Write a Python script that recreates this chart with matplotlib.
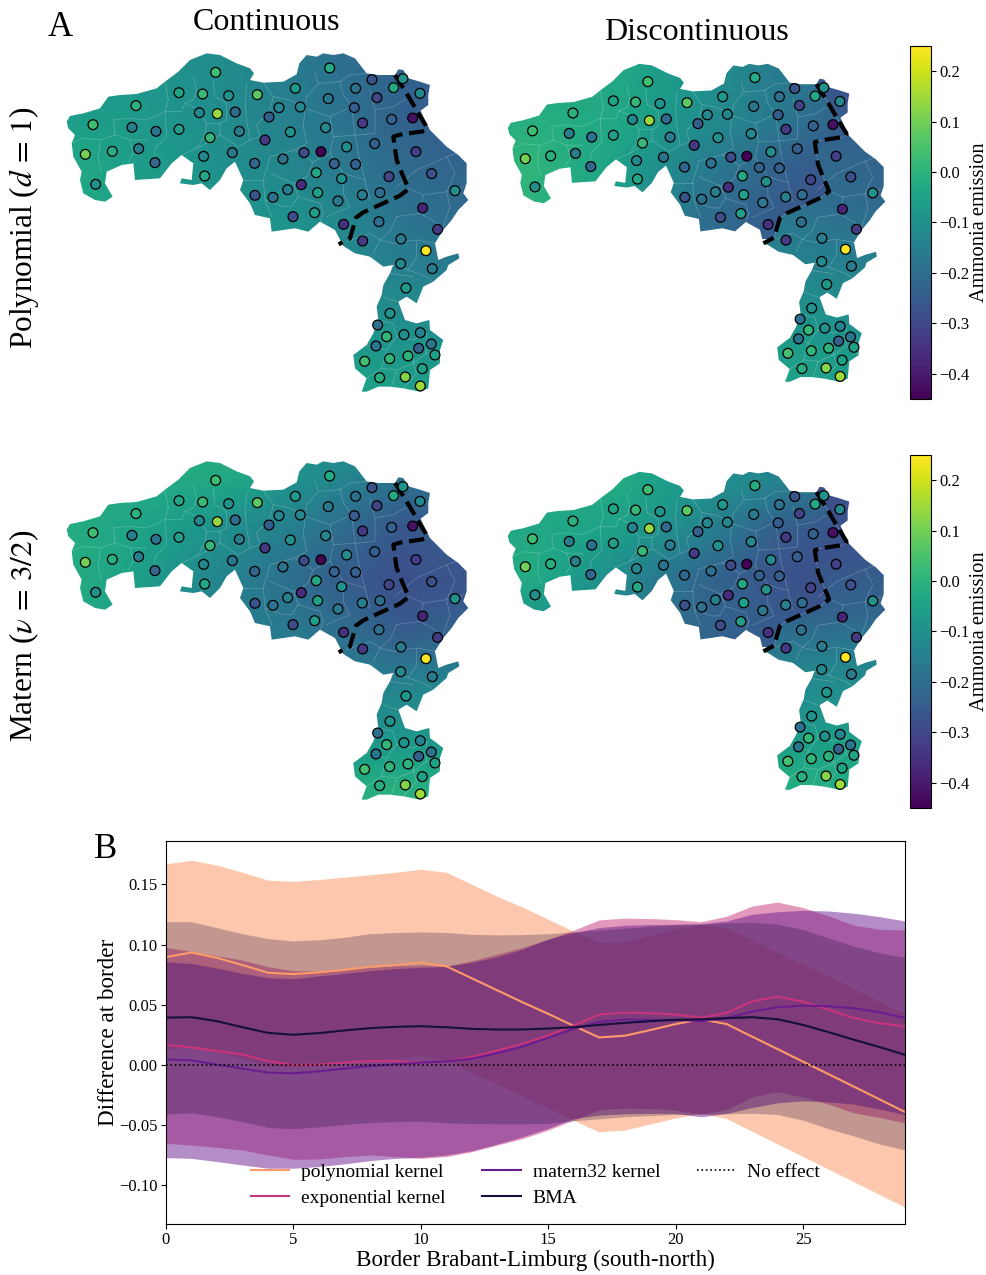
import numpy as np
import matplotlib
matplotlib.use('Agg')
import matplotlib.pyplot as plt
from matplotlib.patches import Polygon
from matplotlib.cm import ScalarMappable
from matplotlib.colors import Normalize

plt.rcParams['font.family'] = ['Liberation Serif', 'DejaVu Serif']
plt.rcParams['mathtext.fontset'] = 'stix'

W, H = 986, 1275

# map outline, in map units (y runs downward)
brabant_north = [(50, 245), (60, 228), (100, 220), (150, 205), (175, 170), (210, 165), (260, 162), (320, 145),
                 (345, 125), (385, 95), (420, 60), (470, 40), (510, 45), (560, 70), (600, 85), (612, 100),
                 (600, 120), (640, 128), (700, 125), (740, 103), (748, 70), (770, 45), (800, 50), (820, 40),
                 (850, 45), (880, 40), (915, 55), (950, 100), (985, 105), (1020, 105)]
limburg_outer = [(1045, 88), (1060, 90), (1075, 115), (1110, 125), (1140, 135), (1135, 165), (1135, 195), (1112, 212),
                 (1125, 240), (1140, 270), (1170, 300), (1190, 320), (1225, 345), (1250, 370), (1250, 430), (1240, 460),
                 (1255, 480), (1225, 510), (1205, 540), (1180, 570), (1155, 610), (1165, 660), (1190, 650), (1225, 640),
                 (1228, 655), (1195, 675), (1190, 690), (1150, 725), (1120, 740), (1100, 790), (1070, 770), (1045, 785),
                 (1065, 840), (1100, 850), (1138, 840), (1140, 870), (1180, 900), (1170, 930), (1170, 970), (1140, 990),
                 (1135, 1045), (1110, 1055), (1060, 1045), (1020, 1040), (985, 1040), (950, 1055), (935, 1055), (950, 1015),
                 (915, 985), (910, 945), (950, 915), (970, 880), (985, 840), (980, 800), (995, 765), (1000, 735),
                 (1020, 700), (1030, 675), (1000, 680), (960, 650), (915, 640), (880, 618)]
brabant_south = [(855, 570), (810, 545), (775, 575), (735, 565), (665, 575), (660, 535), (615, 525), (600, 490),
                 (570, 450), (580, 420), (555, 365), (530, 385), (510, 420), (480, 450), (455, 430), (430, 435),
                 (390, 430), (395, 415), (425, 420), (430, 370), (395, 345), (365, 370), (330, 415), (255, 420),
                 (250, 370), (215, 375), (170, 395), (165, 430), (188, 470), (165, 485), (135, 480), (100, 460),
                 (90, 420), (95, 395), (70, 350), (65, 310), (75, 285), (55, 265)]
border_line = [(1035, 105), (1070, 160), (1108, 225), (1131, 262), (1125, 273), (1050, 284), (1030, 290), (1040, 360),
               (1058, 405), (1076, 447), (1050, 467), (940, 517), (918, 533), (900, 595), (866, 613)]

# municipality boundaries
municipal_lines = [
    [(65, 310), (100, 295), (150, 300), (195, 285), (190, 240), (235, 235), (290, 240), (345, 215), (395, 215), (405, 190), (430, 180), (440, 150), (430, 110)],
    [(345, 125), (355, 180), (345, 215), (350, 290), (315, 325), (315, 350)],
    [(150, 300), (145, 360), (155, 395)],
    [(240, 300), (250, 340), (235, 365)],
    [(195, 285), (240, 300), (290, 300)],
    [(405, 190), (440, 205), (470, 250), (510, 250), (510, 285), (440, 325), (395, 345)],
    [(470, 250), (465, 285), (440, 325)],
    [(490, 120), (495, 170), (530, 190), (530, 240), (510, 250)],
    [(590, 130), (585, 190), (590, 240), (600, 300), (565, 320), (510, 285)],
    [(640, 128), (670, 170), (660, 210), (620, 255), (630, 290), (600, 300)],
    [(670, 170), (720, 180), (765, 205), (760, 260), (770, 310), (735, 330), (660, 350), (640, 420), (645, 480), (665, 530)],
    [(795, 100), (805, 130), (770, 170), (765, 205)],
    [(870, 125), (900, 105), (950, 100)],
    [(870, 125), (880, 165), (905, 200), (915, 280), (925, 340), (945, 420), (960, 480)],
    [(805, 130), (870, 125)],
    [(765, 205), (840, 230), (905, 200)],
    [(840, 230), (850, 290), (925, 285)],
    [(850, 290), (840, 340), (790, 365), (735, 330)],
    [(790, 365), (770, 410), (730, 430), (660, 400)],
    [(580, 420), (640, 420)],
    [(645, 480), (700, 500), (725, 500), (745, 470)],
    [(730, 430), (745, 470), (810, 490), (820, 520), (810, 545)],
    [(840, 340), (880, 400), (945, 420)],
    [(880, 400), (880, 460), (900, 500), (830, 530)],
    [(960, 150), (975, 210), (1030, 200), (1065, 180)],
    [(975, 210), (975, 280), (925, 285)],
    [(1040, 440), (1100, 390), (1180, 355), (1220, 340)],
    [(1075, 445), (1120, 465), (1190, 455), (1240, 440)],
    [(1190, 350), (1215, 400), (1190, 455), (1200, 500), (1180, 560)],
    [(1120, 465), (1110, 520), (1180, 560)],
    [(1040, 530), (1110, 520)],
    [(1040, 530), (1020, 575), (990, 600), (970, 640)],
    [(890, 605), (960, 580), (990, 600), (1030, 610), (1100, 600), (1155, 610)],
    [(1100, 600), (1100, 650), (1075, 690), (1030, 675)],
    [(1075, 690), (1130, 710), (1150, 725)],
    [(1020, 700), (1090, 710)],
    [(1000, 770), (1040, 785)],
    [(985, 840), (1030, 850), (1040, 890), (1010, 930), (950, 915)],
    [(1040, 890), (1090, 900), (1130, 880)],
    [(1010, 930), (995, 985), (950, 1015)],
    [(995, 985), (1040, 990), (1090, 970), (1090, 925)],
    [(1040, 990), (1025, 1040)],
    [(1090, 970), (1100, 1000), (1060, 1045)],
    [(1130, 880), (1130, 940), (1170, 970)],
    [(1130, 940), (1090, 970)],
]

# observed ammonia emission per municipality
point_x = [497, 839, 966, 1059, 1031, 1110, 917, 981, 835, 736, 622, 536, 458, 387, 258, 129, 246, 318, 387, 448, 502, 556, 687,
           751, 913, 657, 568, 480, 721, 827, 938, 1025, 1088, 645, 890, 974, 1098, 106, 187, 266, 461, 547, 699, 762, 813, 614,
           315, 853, 917, 799, 875, 464, 1017, 1145, 137, 754, 713, 803, 615, 669, 937, 990, 1215, 864, 1118, 729, 794, 881, 987,
           1163, 938, 1053, 1128, 1052, 1147, 1068, 1020, 983, 1010, 1062, 1111, 978, 1144, 1106, 1155, 1074, 1019, 944, 1117,
           989, 1066, 1111]
point_y = [97, 84, 119, 116, 143, 160, 145, 173, 176, 145, 164, 167, 162, 158, 197, 254, 262, 274, 268, 218, 221, 216, 203,
           201, 203, 231, 274, 293, 276, 263, 249, 238, 234, 300, 321, 311, 335, 343, 334, 326, 349, 338, 357, 338, 335, 370,
           368, 371, 373, 398, 416, 408, 410, 401, 433, 434, 449, 458, 466, 472, 465, 458, 452, 483, 504, 530, 518, 553, 545,
           568, 603, 597, 632, 671, 686, 744, 820, 855, 890, 884, 878, 918, 912, 925, 945, 948, 956, 964, 986,
           1013, 1011, 1038]
point_value = [0.03, -0.02, -0.27, -0.09, -0.03, -0.12, -0.19, -0.31, -0.17, -0.07, 0.07, -0.09, 0.02, -0.04, 0.0, 0.03, -0.15,
               -0.19, -0.06, -0.13, 0.14, -0.21, -0.13, -0.13, -0.25, -0.24, -0.16, 0.02, -0.1, -0.12, -0.33, -0.23, -0.42, -0.33,
               -0.11, -0.24, -0.32, 0.1, -0.01, -0.15, -0.13, -0.18, -0.19, -0.29, -0.45, -0.22, -0.22, -0.23, -0.24, -0.03, -0.1,
               -0.03, -0.31, -0.28, -0.1, -0.36, -0.15, -0.05, -0.27, -0.19, -0.15, -0.2, -0.1, -0.17, -0.38, -0.29, -0.06, -0.35,
               -0.2, -0.33, -0.33, -0.16, 0.25, -0.12, -0.16, -0.07, -0.1, -0.19, 0.01, -0.1, -0.14, -0.18, -0.18, -0.24, -0.05,
               0.0, 0.01, 0.04, -0.05, -0.01, 0.12, 0.15]

# fitted fields on coarse grids
poly_cont = [[-.07, -.08, -.10, -.12, -.16, -.20, -.23, -.25],
             [-.06, -.07, -.09, -.12, -.15, -.19, -.23, -.25],
             [-.03, -.06, -.08, -.11, -.13, -.17, -.21, -.22],
             [-.03, -.05, -.07, -.08, -.09, -.13, -.18, -.20],
             [-.03, -.05, -.07, -.08, -.10, -.12, -.14, -.15],
             [-.03, -.05, -.06, -.07, -.08, -.09, -.10, -.11],
             [-.03, -.04, -.05, -.06, -.06, -.05, -.06, -.07]]
matern_cont = [[-.02, -.02, -.02, -.03, -.09, -.13, -.19, -.17],
               [-.02, -.04, -.07, -.11, -.15, -.21, -.26, -.24],
               [-.02, -.05, -.10, -.15, -.20, -.25, -.28, -.27],
               [-.03, -.06, -.12, -.15, -.17, -.20, -.25, -.23],
               [-.03, -.06, -.10, -.12, -.13, -.15, -.14, -.13],
               [-.03, -.05, -.07, -.08, -.09, -.10, -.08, -.09],
               [-.02, -.02, -.02, -.02, -.02, -.01, -.01, -.02]]
poly_brabant = [[-.03, -.03, -.09, -.16, -.21],
                [-.01, -.03, -.10, -.17, -.25],
                [.01, -.05, -.15, -.23, -.28],
                [.00, -.05, -.19, -.25, -.28]]
poly_limburg = [[-.24, -.26, -.27],
                [-.21, -.22, -.23],
                [-.18, -.20, -.21],
                [-.14, -.15, -.15],
                [-.09, -.10, -.11],
                [-.05, -.06, -.07]]
matern_brabant = [[-.03, -.02, -.08, -.14, -.21],
                  [-.03, -.05, -.13, -.24, -.28],
                  [-.02, -.11, -.21, -.27, -.29],
                  [-.09, -.13, -.22, -.25, -.28]]
matern_limburg = [[-.26, -.28, -.27],
                  [-.28, -.27, -.26],
                  [-.24, -.23, -.22],
                  [-.14, -.13, -.13],
                  [-.09, -.08, -.07],
                  [-.02, -.02, -.03]]

# panel B
border_pos = list(range(30))
poly_mean = [.0896, .0934, .089, .083, .0766, .0755, .077, .079, .0816, .083, .085, .082, .072, .062, .052, .0425, .0325, .0229, .0243, .029,
             .034, .038, .034, .0236, .0132, .0028, -.0076, -.018, -.0285, -.039]
poly_upper = [.167, .170, .166, .160, .1535, .1525, .154, .156, .158, .160, .1625, .160, .150, .140, .131, .121, .111, .1017, .1025, .108,
              .113, .1166, .114, .104, .0935, .0835, .0735, .0635, .053, .0425]
poly_lower = [.0122, .0155, .011, .0055, -.0005, -.0015, .0, .002, .004, .0055, .0075, .0045, -.006, -.016, -.026, -.036, -.046, -.0555, -.054, -.049,
              -.044, -.040, -.0445, -.055, -.0655, -.076, -.0865, -.097, -.1075, -.118]
exp_mean = [.0168, .0146, .0116, .0088, .0033, 0, .0003, .002, .0033, .0033, .002, .003, .0066, .012, .0176, .0245, .0328, .0419, .0435, .043,
            .0419, .0394, .0433, .0529, .0568, .0526, .046, .0389, .0347, .032]
exp_upper = [.0976, .0943, .0907, .0871, .0816, .0783, .078, .0797, .081, .0824, .083, .082, .0866, .092, .0976, .1045, .112, .1205, .122, .1216,
             .1207, .119, .1235, .132, .1353, .1307, .1238, .116, .1127, .112]
exp_lower = [-.065, -.0665, -.0684, -.0706, -.0747, -.0783, -.078, -.0761, -.0747, -.0761, -.0775, -.076, -.072, -.0665, -.061, -.054, -.0458, -.037, -.0358, -.0361,
             -.0375, -.0408, -.037, -.0265, -.0223, -.0265, -.0325, -.0397, -.0436, -.048]
matern_mean = [.0047, .0039, .0003, -.003, -.0063, -.0069, -.0052, -.003, -.0008, .0006, .002, .003, .0052, .0099, .0154, .0226, .03, .0358, .0378, .0375,
               .0375, .0364, .0389, .0444, .048, .0493, .0488, .0471, .0438, .0391]
matern_upper = [.0857, .0843, .0805, .0761, .0725, .0717, .0739, .0761, .0783, .08, .081, .0819, .0852, .0899, .0962, .1045, .11, .1141, .116, .1166,
                .1169, .1174, .1196, .1251, .1273, .1284, .1279, .126, .1232, .1196]
matern_lower = [-.0769, -.0775, -.0802, -.083, -.0857, -.0857, -.0843, -.0821, -.0794, -.0775, -.0766, -.0747, -.0711, -.0656, -.0595, -.0526, -.0444, -.0416, -.0405, -.0402,
                -.0402, -.043, -.0402, -.0353, -.0314, -.0298, -.0306, -.0325, -.0367, -.0411]
bma_mean = [.0394, .0397, .0364, .0314, .0267, .0251, .0265, .0287, .0306, .0317, .0322, .0314, .03, .0295, .0295, .0303, .0314, .0333, .035, .0364,
            .0375, .038, .0389, .0397, .038, .0333, .0273, .021, .0149, .0085]
bma_upper = [.119, .119, .114, .109, .105, .103, .104, .106, .109, .110, .1105, .110, .1085, .108, .1083, .109, .1105, .112, .1136, .1152,
             .1163, .1168, .118, .1185, .117, .1125, .1055, .0986, .0931, .0893]
bma_lower = [-.0408, -.0397, -.043, -.047, -.0518, -.0529, -.0513, -.0493, -.0477, -.0471, -.0466, -.048, -.0485, -.0488, -.0488, -.0485, -.0463, -.0447, -.043, -.042,
             -.0411, -.0408, -.0405, -.04, -.0411, -.0458, -.0529, -.059, -.0655, -.0706]

kernel_names = ['polynomial kernel', 'exponential kernel', 'matern32 kernel', 'BMA']
kernel_colors = ['#fd9a6a', '#c9357a', '#6a1d8e', '#160f3b']
kernel_alphas = [0.55, 0.5, 0.5, 0.26]


def box(left, top, right, bottom):
    return [left / W, 1 - bottom / H, (right - left) / W, (bottom - top) / H]


norm = Normalize(vmin=-0.45, vmax=0.25)
cmap = 'viridis'
whole_map = brabant_north + border_line[:1] + limburg_outer + brabant_south
brabant_map = brabant_north + border_line + brabant_south
limburg_map = border_line[:1] + limburg_outer + border_line[::-1]

fig = plt.figure(figsize=(W / 100, H / 100), dpi=100)

map_boxes = [(50, 40, 483.3, 410), (492.1, 51.3, 899.4, 399), (50, 448, 483.3, 818), (492.1, 459.3, 899.4, 807)]
map_layers = [
    [(whole_map, poly_cont, (0, 1300, 1100, 0))],
    [(brabant_map, poly_brabant, (0, 1300, 600, 0)), (limburg_map, poly_limburg, (850, 1300, 1100, 50))],
    [(whole_map, matern_cont, (0, 1300, 1100, 0))],
    [(brabant_map, matern_brabant, (0, 1300, 600, 0)), (limburg_map, matern_limburg, (850, 1300, 1100, 50))],
]

for b, layers in zip(map_boxes, map_layers):
    ax = fig.add_axes(box(*b))
    for outline, grid, extent in layers:
        im = ax.imshow(np.array(grid), extent=extent, aspect='auto', cmap=cmap, norm=norm, interpolation='bilinear', zorder=1)
        patch = Polygon(outline, closed=True, transform=ax.transData)
        im.set_clip_path(patch)
    clip = Polygon(whole_map, closed=True, transform=ax.transData)
    for line in municipal_lines:
        xs, ys = zip(*line)
        l, = ax.plot(xs, ys, color='white', lw=0.5, alpha=0.25, zorder=2)
        l.set_clip_path(clip)
    bx, by = zip(*border_line)
    ax.plot(bx, by, color='black', lw=3, ls='--', zorder=3)
    ax.scatter(point_x, point_y, c=point_value, cmap=cmap, norm=norm, s=50, edgecolors='black', linewidths=0.9, zorder=4)
    ax.set_xlim(0, 1300)
    ax.set_ylim(1110, 0)
    ax.axis('off')

# colorbars
for top, bottom in [(46, 399), (455, 808)]:
    cax = fig.add_axes(box(910, top, 931, bottom))
    cb = fig.colorbar(ScalarMappable(norm=norm, cmap=cmap), cax=cax)
    cb.set_ticks([-0.4, -0.3, -0.2, -0.1, 0.0, 0.1, 0.2])
    cb.ax.tick_params(labelsize=12, length=3.5, width=0.8, pad=2.5)
    fig.text(979 / W, 1 - (top + bottom) / 2 / H, 'Ammonia emission', rotation=90, ha='center', va='center', fontsize=14.8)

# titles
fig.text(267 / W, 1 - 23 / H, 'Continuous', ha='center', va='center', fontsize=23)
fig.text(696 / W, 1 - 33 / H, 'Discontinuous', ha='center', va='center', fontsize=23)
fig.text(60 / W, 1 - 28 / H, 'A', ha='center', va='center', fontsize=25)
fig.text(106 / W, 1 - 850 / H, 'B', ha='center', va='center', fontsize=25)
fig.text(24 / W, 1 - 228 / H, r'Polynomial ($d\,=\,1$)', rotation=90, ha='center', va='center', fontsize=22.5)
fig.text(24 / W, 1 - 636 / H, r'Matern ($\nu\,=\,3/2$)', rotation=90, ha='center', va='center', fontsize=22.5)

# panel B
ax = fig.add_axes(box(166, 841, 905, 1224))
series = [(poly_mean, poly_upper, poly_lower), (exp_mean, exp_upper, exp_lower),
          (matern_mean, matern_upper, matern_lower), (bma_mean, bma_upper, bma_lower)]
for (mean, upper, lower), name, color, alpha in zip(series, kernel_names, kernel_colors, kernel_alphas):
    ax.fill_between(border_pos, lower, upper, color=color, alpha=alpha, lw=0)
    ax.plot(border_pos, mean, color=color, lw=1.5, label=name)
ax.axhline(0, color='black', ls=':', lw=1.2, label='No effect')
ax.set_xlim(0, 29)
ax.set_ylim(-0.132, 0.186)
ax.set_xticks([0, 5, 10, 15, 20, 25])
ax.set_yticks([-0.10, -0.05, 0.0, 0.05, 0.10, 0.15])
ax.tick_params(labelsize=12, length=3.5, width=0.8, pad=2.5)
ax.set_xlabel('Border Brabant-Limburg (south-north)', fontsize=16.7, labelpad=1)
ax.set_ylabel('Difference at border', fontsize=16.7, labelpad=0)
handles, labels = ax.get_legend_handles_labels()
ax.legend(handles, labels, ncol=3, loc='lower center', bbox_to_anchor=(0.5, -0.002), frameon=False, fontsize=14,
          handlelength=1.96, columnspacing=1.9, handletextpad=0.62, labelspacing=0.45)

fig.savefig('out.png', dpi=100)
